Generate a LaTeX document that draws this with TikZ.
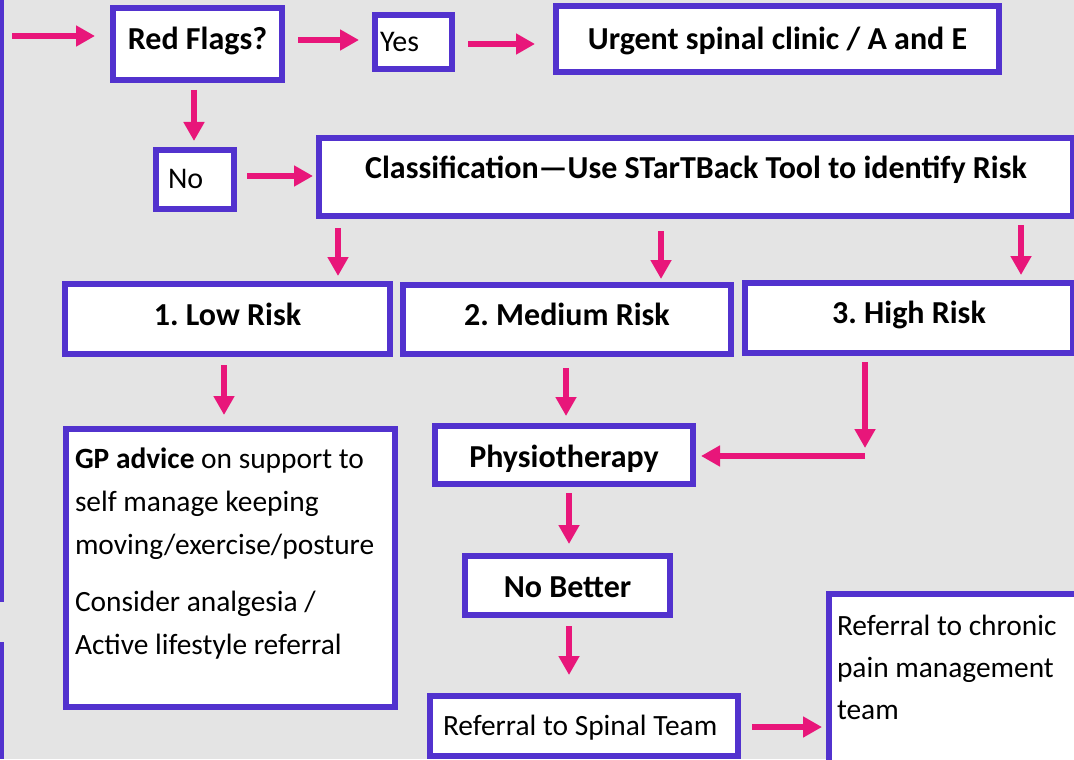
\documentclass[tikz,border=0pt]{standalone}
\usepackage{fontspec}
\setmainfont{Carlito}
\usetikzlibrary{arrows.meta}
\frenchspacing

\begin{document}
\begin{tikzpicture}[x=0.5pt,y=-0.5pt]
	% --- Colores y estilos ---
	\definecolor{fondo}{RGB}{228,228,228}
	\definecolor{borde}{RGB}{82,50,206}
	\definecolor{flecha}{RGB}{232,22,122}
	\tikzset{
		box/.style={draw=borde, fill=white, line width=3pt, inner sep=0pt,
			text height=10.1pt, text depth=0pt, font=\fontsize{16}{19}\selectfont\bfseries},
		txtbox/.style={box, align=flush left, text height=9.3pt, font=\fontsize{14.7}{21.5}\selectfont},
		arr/.style={draw=flecha, line width=3pt, -{Triangle[width=10pt,length=9.5pt]}}
	}
	\useasboundingbox (0,0) rectangle (1074,759);
	\clip (0,0) rectangle (1074,759);
	\fill[fondo] (0,0) rectangle (1074,759);

	% --- Bordes a la izquierda ---
	\draw[borde, line width=2pt] (2,0) -- (2,602);
	\draw[borde, line width=2pt] (2,642) -- (2,759);

	% --- Cajas ---
	\node[box, minimum width=84.5pt, minimum height=36pt, text depth=4.5pt] (rf) at (197.5,44) {Red Flags?};
	\node[txtbox, font=\fontsize{15}{18}\selectfont, text height=9.5pt, text width=33.5pt, inner xsep=2.5pt, minimum height=27pt] (yes) at (413.5,42) {Yes};
	\node[box, minimum width=221.5pt, minimum height=33pt] (urg) at (777.5,39) {Urgent spinal clinic / A and E};
	\node[txtbox, font=\fontsize{15}{18}\selectfont, text height=9.5pt, text width=27pt, inner xsep=6pt, minimum height=29.5pt] (no) at (195,179.5) {No};
	\node[box, minimum width=377pt, minimum height=39pt, text depth=8.5pt] (cls) at (696,177) {Classification—Use STarTBack Tool to identify Risk};
	\node[box, minimum width=162.5pt, minimum height=35pt, text depth=4pt] (low) at (227.5,319) {1. Low Risk};
	\node[box, minimum width=164pt, minimum height=34.5pt, text depth=4pt] (med) at (567,319.5) {2. Medium Risk};
	\node[box, minimum width=164pt, minimum height=35pt, text depth=4.5pt] (high) at (909,318) {3. High Risk};
	\node[txtbox, anchor=north west, text width=155.5pt, inner xsep=4.5pt, inner ysep=9.8pt,
		text height=9.7pt, text depth=109.7pt] (gp) at (63,426)
		{\textbf{GP advice} on support to\\ self manage keeping\\ moving/exercise/posture\\[7pt]
		 Consider analgesia /\\ Active lifestyle referral};
	\node[box, minimum width=129pt, minimum height=29pt, text height=12.1pt] (phys) at (564,455) {Physiotherapy};
	\node[box, minimum width=102.5pt, minimum height=29.5pt, text height=11.6pt] (nb) at (567.5,585.5) {No Better};
	\node[txtbox, text width=141pt, inner xsep=6.5pt, minimum height=30pt] (spine) at (584,726) {\mbox{Referral to Spinal Team}};
	\node[txtbox, anchor=north west, text width=200pt, inner xsep=4pt, inner ysep=10.8pt,
		font=\fontsize{14.7}{21}\selectfont, text height=9.7pt, text depth=150pt] (pain) at (826,591)
		{Referral to chronic\\ pain management\\ team};

	% --- Flechas ---
	\coordinate (ini) at (12,36);
	\coordinate (hv) at (865,448);
	\coordinate (hh) at (865,456);
	\draw[arr, shorten >=7.5pt] (ini) -- (rf.west |- ini);
	\draw[arr, shorten <=6.5pt, shorten >=6.5pt] (rf.east |- 0,40) -- (yes.west |- 0,40);
	\draw[arr, shorten <=6.5pt, shorten >=9pt] (yes.east |- 0,44) -- (urg.west |- 0,44);
	\draw[arr, shorten <=3.5pt, shorten >=3pt] (rf.south -| 194,0) -- (no.north -| 194,0);
	\draw[arr, shorten <=5pt, shorten >=1.5pt] (no.east |- 0,176) -- (cls.west |- 0,176);
	\draw[arr, shorten <=4.5pt, shorten >=2.5pt] (cls.south -| 338,0) -- (low.north -| 338,0);
	\draw[arr, shorten <=6pt, shorten >=1.5pt] (cls.south -| 661,0) -- (med.north -| 661,0);
	\draw[arr, shorten <=3pt, shorten >=2.5pt] (cls.south -| 1021,0) -- (high.north -| 1021,0);
	\draw[arr, shorten <=4pt, shorten >=5.5pt] (low.south -| 224,0) -- (gp.north -| 224,0);
	\draw[arr, shorten <=5.5pt, shorten >=3.5pt] (med.south -| 566,0) -- (phys.north -| 566,0);
	\draw[arr, shorten <=3pt] (high.south -| hv) -- (hv);
	\draw[arr, shorten >=2.5pt] (hh) -- (phys.east |- hh);
	\draw[arr, shorten <=3pt, shorten >=4.5pt] (phys.south -| 569,0) -- (nb.north -| 569,0);
	\draw[arr, shorten <=4pt, shorten >=9pt] (nb.south -| 569,0) -- (spine.north -| 569,0);
	\draw[arr, shorten <=5.5pt, shorten >=2pt] (spine.east |- 0,727) -- (pain.west |- 0,727);
\end{tikzpicture}
\end{document}
